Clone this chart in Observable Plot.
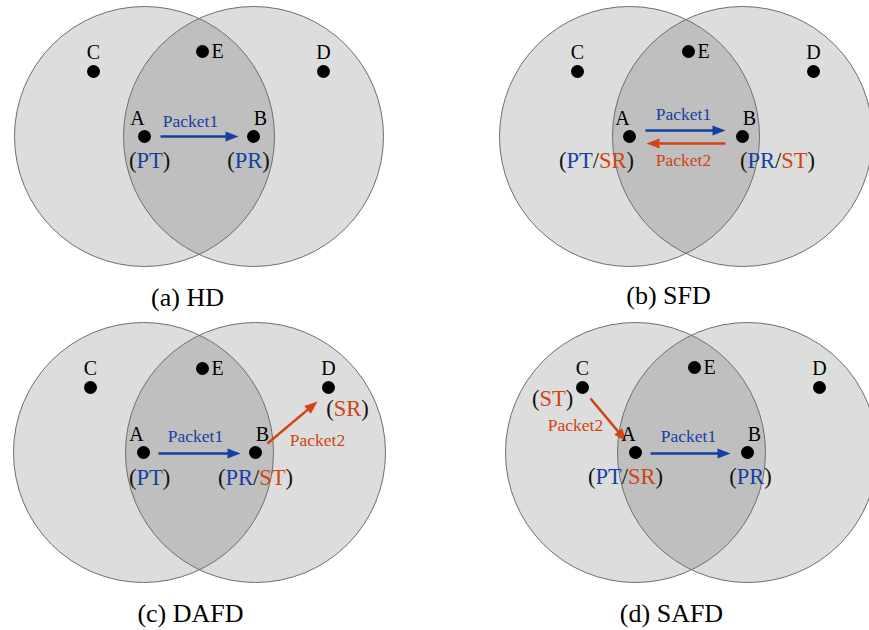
<!DOCTYPE html>
<html>
<head>
<meta charset="utf-8">
<script src="https://cdn.jsdelivr.net/npm/d3@7"></script>
<script src="https://cdn.jsdelivr.net/npm/@observablehq/plot@0.6"></script>
<style>
  html, body { margin: 0; padding: 0; background: #fff; }
  #chart { width: 869px; height: 630px; }
  #chart svg text { font-family: "Liberation Serif", "DejaVu Serif", serif; }
</style>
</head>
<body>
<div id="chart"></div>
<script>
// ---- data (pixel-space diagram coordinates) ----
const captions = ["(a) HD", "(b) SFD", "(c) DAFD", "(d) SAFD"];
const captionX = [187, 668, 190, 671];
const captionY = [297, 295, 613, 613];

const circleX = [144, 253, 629, 742, 143, 255, 635, 747];
const circleY = [136, 136, 136, 136, 452, 452, 452, 452];

const nodeNames = ["C","E","D","A","B", "C","E","D","A","B", "C","E","D","A","B", "C","E","D","A","B"];
const nodeX = [93, 202, 323, 144, 253, 577, 688, 813, 629, 742, 90, 202, 328, 143, 255, 582, 694, 819, 635, 747];
const nodeY = [71, 51, 71, 136, 136, 71, 51, 71, 136, 136, 387, 368, 387, 452, 452, 387, 367, 387, 452, 452];

const packetText = ["Packet1", "Packet1", "Packet2", "Packet1", "Packet2", "Packet1", "Packet2"];
const packetX = [190, 683, 683, 195, 317, 688, 575];
const packetY = [121, 114, 160, 436, 440, 436, 425];

const arrowPacket = ["Packet1", "Packet1", "Packet2", "Packet1", "Packet2", "Packet1", "Packet2"];
const arrowX1 = [160, 645, 725, 158, 267, 650, 590];
const arrowY1 = [136, 130, 143, 453, 443, 453, 398];
const arrowX2 = [238, 725, 646, 240, 317, 730, 626];
const arrowY2 = [136, 130, 143, 453, 401, 453, 441];

const roleText = ["(PT)", "(PR)", "(PT/SR)", "(PR/ST)", "(PT)", "(PR/ST)", "(SR)", "(ST)", "(PT/SR)", "(PR)"];
const roleX = [149, 248, 596, 777, 149, 255, 347, 552, 625, 750];
const roleY = [160, 160, 160, 160, 477, 477, 408, 398, 476, 476];

// ---- tables ----
const circles = circleX.map((x, i) => ({x, y: circleY[i]}));
const nodes = nodeNames.map((name, i) => ({name, x: nodeX[i], y: nodeY[i]}));
const packets = packetText.map((t, i) => ({t, x: packetX[i], y: packetY[i]}));
const arrows = arrowPacket.map((p, i) => {
  const dx = arrowX2[i] - arrowX1[i], dy = arrowY2[i] - arrowY1[i];
  const len = Math.hypot(dx, dy);
  return {p, x1: arrowX1[i], y1: arrowY1[i], x2: arrowX2[i], y2: arrowY2[i], ux: dx / len, uy: dy / len,
          angle: Math.atan2(dy, dx) * 180 / Math.PI + 90};
});
const roles = roleText.map((t, i) => ({t, x: roleX[i], y: roleY[i]}));
const caps = captions.map((t, i) => ({t, x: captionX[i], y: captionY[i]}));

const BLUE = "#153fa3";
const RED = "#d2430f";
const color = p => p === "Packet1" ? BLUE : RED;

// arrow head symbol: tip at origin, pointing up
const headSymbol = {
  draw(context) {
    context.moveTo(0, 0);
    context.lineTo(5, 13);
    context.lineTo(-5, 13);
    context.closePath();
  }
};

const labelOffset = {C: [0, -19], D: [0, -19], E: [15, 0], A: [-7, -18], B: [7, -18]};
const FONT = "Liberation Serif";

const plot = Plot.plot({
  width: 869,
  height: 630,
  margin: 0,
  x: {domain: [0, 869], range: [0, 869], axis: null},
  y: {domain: [0, 630], range: [0, 630], axis: null},
  marks: [
    Plot.dot(circles, {x: "x", y: "y", r: 130, fill: "#000", fillOpacity: 0.135, stroke: "none"}),
    Plot.dot(circles, {x: "x", y: "y", r: 130, fill: "none", stroke: "#6e6e6e", strokeWidth: 1}),
    Plot.link(arrows, {
      x1: "x1", y1: "y1",
      x2: d => d.x2 - d.ux * 8, y2: d => d.y2 - d.uy * 8,
      stroke: d => color(d.p), strokeWidth: 2.5
    }),
    Plot.dot(arrows, {
      x: "x2", y: "y2", symbol: headSymbol, rotate: "angle",
      fill: d => color(d.p), stroke: "none", r: 5
    }),
    Plot.dot(nodes, {x: "x", y: "y", r: 6.5, fill: "#000", stroke: "none"}),
    Plot.text(nodes, {
      x: d => d.x + labelOffset[d.name][0], y: d => d.y + labelOffset[d.name][1],
      text: "name", fontSize: 20, fill: "#000", fontFamily: FONT
    }),
    Plot.text(packets, {x: "x", y: "y", text: "t", fontSize: 17.5, fill: d => color(d.t), fontFamily: FONT}),
    Plot.text(roles, {x: "x", y: "y", text: "t", fontSize: 22.5, fill: "#111", fontFamily: FONT}),
    Plot.text(caps, {x: "x", y: "y", text: "t", fontSize: 26, fill: "#000", fontFamily: FONT})
  ]
});

// colour role parts: PT/PR blue, SR/ST red, punctuation black
d3.select(plot).selectAll("text").each(function() {
  const s = this.textContent;
  if (!/^\((PT|PR|ST|SR)/.test(s)) return;
  const el = d3.select(this);
  el.text(null);
  s.split(/(PT|PR|ST|SR)/).filter(p => p.length).forEach(p => {
    const c = (p === "PT" || p === "PR") ? BLUE : (p === "ST" || p === "SR") ? RED : "#111";
    el.append("tspan").attr("fill", c).text(p);
  });
});

document.getElementById("chart").append(plot);
</script>
</body>
</html>
